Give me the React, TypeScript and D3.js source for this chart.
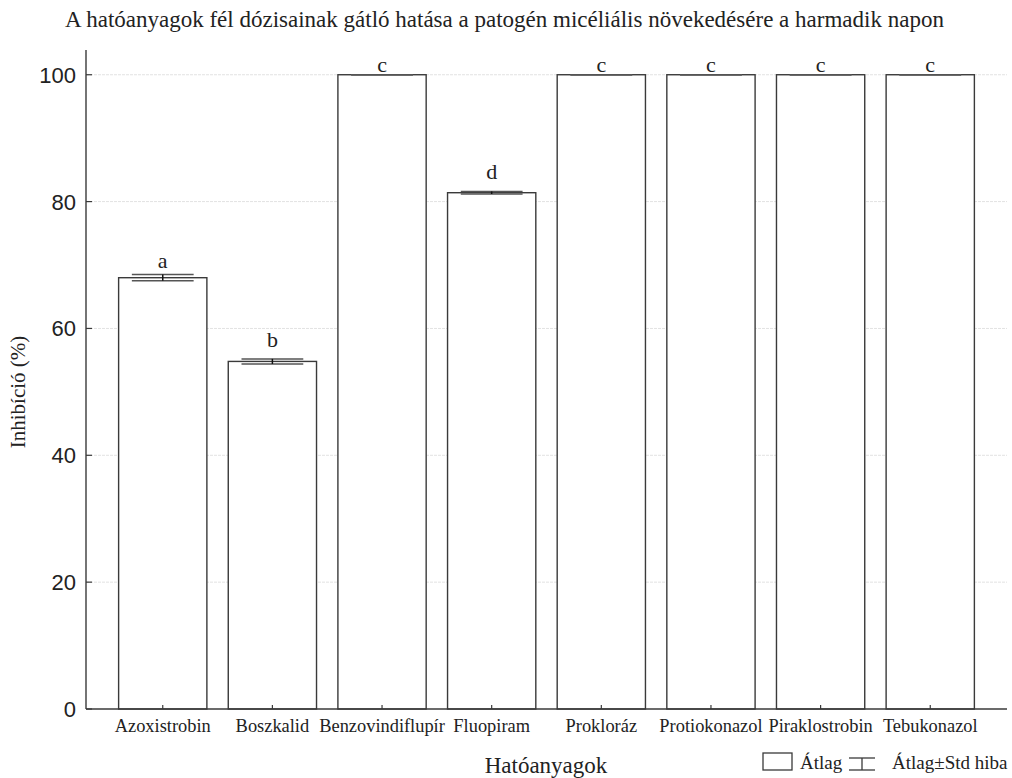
import React from "react";
import * as d3 from "d3";

const categories = ["Azoxistrobin", "Boszkalid", "Benzovindiflupír", "Fluopiram", "Prokloráz", "Protiokonazol", "Piraklostrobin", "Tebukonazol"];
const means = [68.0, 54.8, 100, 81.4, 100, 100, 100, 100];
const stdErr = [0.5, 0.4, 0, 0.2, 0, 0, 0, 0];
const letters = ["a", "b", "c", "d", "c", "c", "c", "c"];
const letterPos = [69.6, 57.1, 100.4, 83.6, 100.4, 100.4, 100.4, 100.4];
const yTicks = [0, 20, 40, 60, 80, 100];

const W = 1012, H = 778;
const left = 86, right = 1007, top = 50, bottom = 709;
const serif = "'Liberation Serif', 'Times New Roman', serif";
const sans = "'Liberation Sans', Arial, sans-serif";

export default function App() {
  const x = d3.scalePoint<string>().domain(categories).range([left, right]).padding(0.7);
  const y = d3.scaleLinear().domain([0, 103.9]).range([bottom, top]);
  const bw = x.step() * 0.805;
  const cw = bw * 0.7;
  const stroke = "#3a3a3a";
  return (
    <div style={{ position: "absolute", left: 0, top: 0 }}>
      <svg width={W} height={H} style={{ display: "block", background: "#fff" }}>
        <text x={504.5} y={27} textAnchor="middle" fontFamily={serif} fontSize={23} fill="#222">
          A hatóanyagok fél dózisainak gátló hatása a patogén micéliális növekedésére a harmadik napon
        </text>
        {yTicks.filter(t => t > 0).map(t => (
          <line key={"g" + t} x1={left} x2={right} y1={y(t)} y2={y(t)} stroke="#e2e2e2" strokeWidth={1} strokeDasharray="3,1" />
        ))}
        {categories.map((c, i) => (
          <rect key={c} x={x(c)! - bw / 2} y={y(means[i])} width={bw} height={y(0) - y(means[i])} fill="#fff" stroke={stroke} strokeWidth={1.4} />
        ))}
        {categories.map((c, i) => {
          const cx = x(c)!;
          const hi = y(means[i] + stdErr[i]);
          const lo = y(means[i] - stdErr[i]);
          return (
            <g key={"e" + c} stroke="#555" strokeWidth={1.5}>
              <line x1={cx - cw / 2} x2={cx + cw / 2} y1={hi} y2={hi} />
              <line x1={cx - cw / 2} x2={cx + cw / 2} y1={lo} y2={lo} />
              <line x1={cx} x2={cx} y1={hi} y2={lo} stroke="#111" />
            </g>
          );
        })}
        {categories.map((c, i) => (
          <text key={"l" + c} x={x(c)!} y={y(letterPos[i])} textAnchor="middle" fontFamily={serif} fontSize={22} fill="#222">
            {letters[i]}
          </text>
        ))}
        <line x1={left} x2={left} y1={top} y2={bottom} stroke={stroke} strokeWidth={1.4} />
        <line x1={left} x2={right} y1={bottom} y2={bottom} stroke={stroke} strokeWidth={1.4} />
        {yTicks.map(t => (
          <g key={"t" + t}>
            <line x1={left} x2={left + 6} y1={y(t)} y2={y(t)} stroke={stroke} strokeWidth={1.2} />
            <text x={76} y={y(t)} dy="0.36em" textAnchor="end" fontFamily={sans} fontSize={22} fill="#222">{t}</text>
          </g>
        ))}
        {categories.map(c => (
          <g key={"x" + c}>
            <line x1={x(c)!} x2={x(c)!} y1={bottom} y2={bottom - 4} stroke={stroke} strokeWidth={1.2} />
            <text x={x(c)!} y={732} textAnchor="middle" fontFamily={serif} fontSize={18.4} fill="#222">{c}</text>
          </g>
        ))}
        <text transform={`translate(25,${392}) rotate(-90)`} textAnchor="middle" fontFamily={serif} fontSize={21} fill="#222">Inhibíció (%)</text>
        <text x={546} y={773} textAnchor="middle" fontFamily={serif} fontSize={23} fill="#222">Hatóanyagok</text>
        <g>
          <rect x={763} y={753} width={29} height={17} fill="#fff" stroke={stroke} strokeWidth={1.3} />
          <text x={800} y={769} fontFamily={serif} fontSize={19} fill="#222">Átlag</text>
          <line x1={849} x2={875} y1={758} y2={758} stroke={stroke} strokeWidth={1.3} />
          <line x1={849} x2={875} y1={770} y2={770} stroke={stroke} strokeWidth={1.3} />
          <line x1={862} x2={862} y1={758} y2={770} stroke={stroke} strokeWidth={1.3} />
          <text x={892} y={769} fontFamily={serif} fontSize={19} fill="#222">Átlag±Std hiba</text>
        </g>
      </svg>
    </div>
  );
}
